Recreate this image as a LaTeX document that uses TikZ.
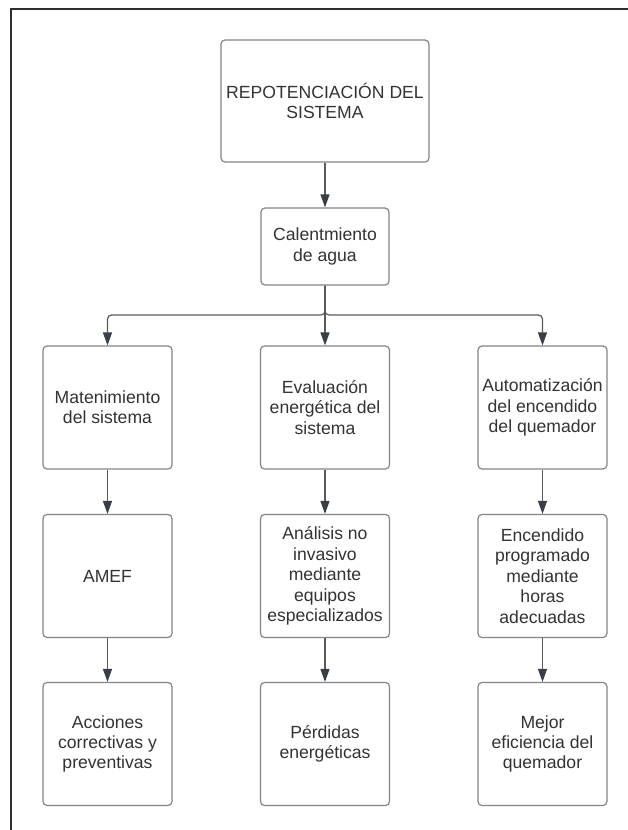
\documentclass[tikz,border=0pt]{standalone}
\usepackage{fontspec}
\newfontfamily\chartfont{Liberation Sans}
\usetikzlibrary{arrows.meta}
\definecolor{framecol}{HTML}{2E2E2E}
\definecolor{boxcol}{HTML}{858585}
\definecolor{linkcol}{HTML}{5A5A5A}
\definecolor{tipcol}{HTML}{3A3F47}
\definecolor{textcol}{HTML}{333333}
\newcommand\boxfont{\chartfont\fontsize{17.6}{20.4}\selectfont}
\tikzset{
  frameline/.style={draw=framecol, line width=1.5pt},
  stepbox/.style={draw=boxcol, line width=1.2pt, rounded corners=4pt, fill=white,
    minimum width=129pt, minimum height=123pt, inner sep=0pt, align=center,
    text=textcol, font=\boxfont},
  link/.style={draw=linkcol, line width=1.2pt,
    -{Triangle[length=13pt, width=9pt, color=tipcol]}},
}
\begin{document}
\begin{tikzpicture}[x=1pt, y=-1pt]
\useasboundingbox (0,0) rectangle (628,830);
\fill[white] (0,0) rectangle (628,830);
% outer frame (top and left edges only)
\draw[frameline] (628,9) -- (11,9) -- (11,830);

% top of the hierarchy
\node[stepbox, minimum width=208pt, minimum height=122pt] (top) at (325,101)
  {REPOTENCIACIÓN DEL\\SISTEMA};
\node[stepbox, minimum width=128pt, minimum height=77pt] (cal) at (325,246.5)
  {Calentmiento\\de agua};

% first row
\node[stepbox] (m1) at (107.5,407.5) {Matenimiento\\del sistema};
\node[stepbox] (e1) at (325,407.5) {Evaluación\\energética del\\sistema};
\node[stepbox] (a1) at (542.5,407.5) {Automatización\\del encendido\\del quemador};

% second row
\node[stepbox] (m2) at (107.5,576) {AMEF};
\node[stepbox] (e2) at (325,576) {Análisis no\\invasivo\\mediante\\equipos\\especializados};
\node[stepbox] (a2) at (542.5,576) {Encendido\\programado\\mediante\\horas\\adecuadas};

% third row
\node[stepbox] (m3) at (107.5,744) {Acciones\\correctivas y\\preventivas};
\node[stepbox] (e3) at (325,744) {Pérdidas\\energéticas};
\node[stepbox] (a3) at (542.5,744) {Mejor\\eficiencia del\\quemador};

% connectors
\coordinate (split) at (325,315);
\draw[link] (top) -- (cal);
\draw[link, rounded corners=4pt] (cal.south) -- (split) -| (m1.north);
\draw[link, rounded corners=4pt] (cal.south) -- (split) -| (a1.north);
\draw[link] (cal.south) -- (e1.north);
\draw[link] (m1) -- (m2);
\draw[link] (m2) -- (m3);
\draw[link] (e1) -- (e2);
\draw[link] (e2) -- (e3);
\draw[link] (a1) -- (a2);
\draw[link] (a2) -- (a3);
\end{tikzpicture}
\end{document}
